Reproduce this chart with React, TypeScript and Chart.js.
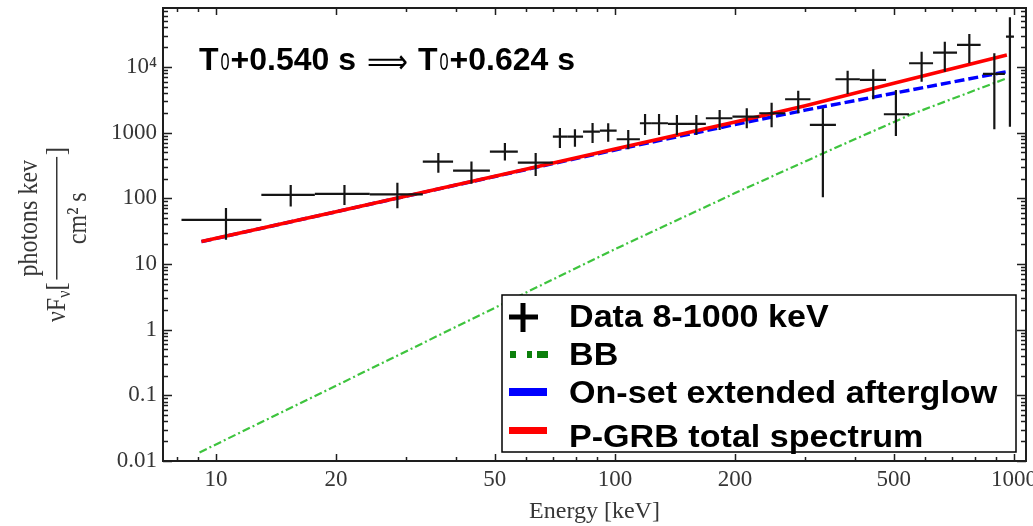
import { useEffect, useRef } from 'react';
import { Chart, registerables } from 'chart.js';

Chart.register(...registerables);

// Measured spectrum: bin centre, bin edges (keV) and νFν with its 1σ bounds
const energy = [10.6, 15.4, 21.0, 28.5, 36.1, 43.7, 53.0, 63.3, 72.8, 79.4, 87.9, 96.2, 108, 119, 129, 143, 160, 183, 214, 247, 288, 332, 383, 444, 506, 587, 671, 773, 893, 977];
const energyLo = [8.2, 13.0, 17.7, 24.3, 33.0, 39.3, 48.6, 57.1, 69.9, 76.2, 83.2, 91.7, 101, 115.5, 123.8, 135.8, 151.6, 169, 197, 230, 267, 308, 357, 411, 472, 546, 627, 720, 836, 955];
const energyHi = [13.0, 17.7, 24.3, 33.0, 39.3, 48.6, 57.1, 69.9, 76.2, 83.2, 91.7, 101, 115.5, 123.8, 135.8, 151.6, 169, 197, 230, 267, 309, 358, 411, 478, 546, 627, 720, 825, 949, 1000];
const flux = [46.9, 113, 117, 115, 362, 264, 514, 349, 869, 869, 1035, 1072, 793, 1390, 1390, 1357, 1357, 1656, 1752, 1974, 3224, 1310, 6500, 6340, 1905, 11380, 16510, 21620, 7830, 28900];
const fluxLo = [23.3, 74.8, 79.4, 70.6, 244, 166, 375, 219, 585, 612, 697, 729, 559, 922, 922, 922, 922, 1099, 1167, 1208, 1974, 104, 3880, 3220, 891, 5975, 8480, 11380, 1127, 1234];
const fluxHi = [71.4, 160, 160, 173, 491, 362, 697, 491, 1180, 1127, 1406, 1390, 1099, 1925, 1925, 1859, 1859, 2215, 2350, 2862, 4357, 2350, 8784, 9226, 4467, 17100, 24270, 31770, 16160, 57080];

// Model components
const modelEnergy = [9.2, 20, 50, 100, 200, 300, 500, 960];
const afterglow = [21.9, 62.3, 215, 545, 1330, 2200, 3979, 8476];
const total = [22.0, 62.4, 217, 562, 1450, 2570, 5650, 15200];
const bbEnergy = [9.1, 20, 50, 100, 200, 330, 548, 960];
const bb = [0.0135, 0.14, 2.15, 16.8, 120, 474, 1859, 6730];

// Axis labels
const xTickValues = [10, 20, 50, 100, 200, 500, 1000];
const yTickValues = [0.01, 0.1, 1, 10, 100, 1000, 10000];

const legendLabels = ['Data 8-1000 keV', 'BB', 'On-set extended afterglow', 'P-GRB total spectrum'];

const SERIF = '"Liberation Serif", "Times New Roman", serif';
const SANS = '"Liberation Sans", Arial, sans-serif';
const LABEL_GRAY = '#363636';

const pts = (xs: number[], ys: number[]) => xs.map((x, i) => ({ x, y: ys[i] }));

const errorBarsPlugin = {
  id: 'errorBars',
  afterDatasetsDraw(chart: any) {
    const { ctx, chartArea: a } = chart;
    const x = chart.scales.x;
    const y = chart.scales.y;
    ctx.save();
    ctx.beginPath();
    ctx.rect(a.left, a.top, a.right - a.left, a.bottom - a.top);
    ctx.clip();
    ctx.strokeStyle = '#151515';
    ctx.lineWidth = 2.2;
    energy.forEach((e, i) => {
      const px = x.getPixelForValue(e);
      const py = y.getPixelForValue(flux[i]);
      ctx.beginPath();
      ctx.moveTo(x.getPixelForValue(energyLo[i]), py);
      ctx.lineTo(x.getPixelForValue(energyHi[i]), py);
      ctx.moveTo(px, y.getPixelForValue(fluxLo[i]));
      ctx.lineTo(px, y.getPixelForValue(fluxHi[i]));
      ctx.stroke();
    });
    ctx.restore();
  },
};

// Box frame with inward-pointing major/minor ticks on all four sides
const framePlugin = {
  id: 'frame',
  afterDatasetsDraw(chart: any) {
    const { ctx, chartArea: a } = chart;
    const x = chart.scales.x;
    const y = chart.scales.y;
    ctx.save();
    ctx.strokeStyle = '#1e1e1e';
    ctx.lineWidth = 1.5;
    ctx.beginPath();
    for (let d = 0; d <= 3; d++) {
      for (let k = 1; k <= 9; k++) {
        const v = k * Math.pow(10, d);
        if (v < x.min || v > x.max) continue;
        const px = Math.round(x.getPixelForValue(v)) + 0.5;
        const len = xTickValues.includes(v) ? 7 : 4;
        ctx.moveTo(px, a.bottom);
        ctx.lineTo(px, a.bottom - len);
        ctx.moveTo(px, a.top);
        ctx.lineTo(px, a.top + len);
      }
    }
    for (let d = -2; d <= 4; d++) {
      for (let k = 1; k <= 9; k++) {
        const v = k * Math.pow(10, d);
        if (v < y.min || v > y.max) continue;
        const py = Math.round(y.getPixelForValue(v)) + 0.5;
        const len = k === 1 ? 9 : 5;
        ctx.moveTo(a.left, py);
        ctx.lineTo(a.left + len, py);
        ctx.moveTo(a.right, py);
        ctx.lineTo(a.right - len, py);
      }
    }
    ctx.stroke();
    ctx.lineWidth = 2;
    ctx.strokeRect(a.left, a.top, a.right - a.left, a.bottom - a.top);
    ctx.restore();
  },
};

function drawRotated(ctx: CanvasRenderingContext2D, text: string, font: string, baseX: number, startY: number, stretch: number) {
  ctx.font = font;
  const w = ctx.measureText(text).width;
  ctx.save();
  ctx.translate(baseX, startY);
  ctx.rotate(-Math.PI / 2);
  ctx.scale(1, stretch);
  ctx.textAlign = 'left';
  ctx.textBaseline = 'alphabetic';
  ctx.fillText(text, 0, 0);
  ctx.restore();
  return w;
}

function drawYTitle(ctx: CanvasRenderingContext2D) {
  const S = 1.15;
  ctx.save();
  ctx.fillStyle = LABEL_GRAY;
  let yPos = 322;
  yPos -= drawRotated(ctx, 'νF', `24px ${SERIF}`, 65, yPos, S);
  yPos -= drawRotated(ctx, 'ν', `16px ${SERIF}`, 70, yPos, S);
  yPos -= drawRotated(ctx, '[', `24px ${SERIF}`, 65, yPos, S) + 3;
  ctx.font = `24px ${SERIF}`;
  const num = 'photons kev';
  const den = 'cm² s';
  const wn = ctx.measureText(num).width;
  const wd = ctx.measureText(den).width;
  const bar = Math.max(wn, wd) + 6;
  drawRotated(ctx, num, `24px ${SERIF}`, 37, yPos - (bar - wn) / 2, S);
  drawRotated(ctx, den, `24px ${SERIF}`, 86, yPos - (bar - wd) / 2, S);
  ctx.fillRect(56, yPos - bar, 1.5, bar);
  drawRotated(ctx, ']', `24px ${SERIF}`, 65, yPos - bar - 2, S);
  ctx.restore();
}

function drawTime(ctx: CanvasRenderingContext2D, x0: number, base: number, label: string) {
  let x = x0;
  ctx.font = `bold 32px ${SANS}`;
  ctx.fillText('T', x, base);
  x += ctx.measureText('T').width + 2;
  ctx.font = `24px ${SANS}`;
  const w0 = ctx.measureText('0').width * 0.68;
  ctx.save();
  ctx.translate(x, base);
  ctx.scale(0.68, 1);
  ctx.fillText('0', 0, 0);
  ctx.restore();
  x += w0 + 1;
  ctx.font = `bold 32px ${SANS}`;
  ctx.fillText(label, x, base);
}

const overlayPlugin = {
  id: 'overlay',
  afterDraw(chart: any) {
    const ctx: CanvasRenderingContext2D = chart.ctx;
    drawYTitle(ctx);

    // interval annotation
    ctx.save();
    ctx.fillStyle = '#000';
    ctx.textAlign = 'left';
    ctx.textBaseline = 'alphabetic';
    drawTime(ctx, 199, 70, '+0.540 s');
    ctx.font = `34px "DejaVu Sans", sans-serif`;
    const aw = ctx.measureText('⟹').width;
    ctx.save();
    ctx.translate(367, 64);
    ctx.scale(41 / aw, 1);
    ctx.textBaseline = 'middle';
    ctx.fillText('⟹', 0, 0);
    ctx.restore();
    drawTime(ctx, 418, 70, '+0.624 s');
    ctx.restore();

    // legend box
    ctx.save();
    ctx.fillStyle = '#fff';
    ctx.fillRect(502, 295, 514, 157);
    ctx.strokeStyle = '#000';
    ctx.lineWidth = 1.5;
    ctx.strokeRect(502, 295, 514, 157);
    // symbols
    ctx.fillStyle = '#000';
    ctx.fillRect(509, 314.5, 29, 5);
    ctx.fillRect(520.5, 303, 5, 29);
    ctx.fillStyle = '#0b7f0b';
    ctx.fillRect(510, 351, 6, 7);
    ctx.fillRect(527, 351, 5, 7);
    ctx.fillRect(537, 351, 11, 7);
    ctx.fillStyle = chart.data.datasets[2].borderColor;
    ctx.fillRect(509, 388, 38, 8);
    ctx.fillStyle = chart.data.datasets[3].borderColor;
    ctx.fillRect(509, 427, 38, 7);
    // labels
    ctx.fillStyle = '#000';
    ctx.font = `bold 31px ${SANS}`;
    ctx.textBaseline = 'alphabetic';
    const baselines = [327, 365, 403, 447];
    legendLabels.forEach((t, i) => {
      ctx.save();
      ctx.translate(569, baselines[i]);
      ctx.scale(1.1, 1);
      ctx.fillText(t, 0, 0);
      ctx.restore();
    });
    ctx.restore();
  },
};

export default function App() {
  const ref = useRef<HTMLCanvasElement>(null);

  useEffect(() => {
    if (!ref.current) return;
    const chart = new Chart(ref.current, {
      type: 'scatter',
      data: {
        datasets: [
          {
            label: legendLabels[0],
            data: pts(energy, flux),
            pointRadius: 0,
            showLine: false,
            order: 0,
          },
          {
            label: legendLabels[1],
            data: pts(bbEnergy, bb),
            showLine: true,
            borderColor: '#3ec43e',
            borderWidth: 2.2,
            borderDash: [8, 3, 2, 3],
            pointRadius: 0,
            tension: 0,
            order: 3,
          },
          {
            label: legendLabels[2],
            data: pts(modelEnergy, afterglow),
            showLine: true,
            borderColor: '#0000ff',
            borderWidth: 3.5,
            borderDash: [10, 4],
            pointRadius: 0,
            tension: 0,
            order: 2,
          },
          {
            label: legendLabels[3],
            data: pts(modelEnergy, total),
            showLine: true,
            borderColor: '#ff0000',
            borderWidth: 3.5,
            pointRadius: 0,
            tension: 0,
            order: 1,
          },
        ],
      } as any,
      options: {
        animation: false,
        responsive: false,
        devicePixelRatio: 1,
        events: [],
        layout: { padding: { left: 0, right: 7, top: 8, bottom: 0 } },
        plugins: { legend: { display: false }, tooltip: { enabled: false } },
        scales: {
          x: {
            type: 'logarithmic',
            position: 'bottom',
            min: 7.37,
            max: 1072,
            grid: { display: false, drawTicks: false },
            border: { display: false },
            ticks: {
              autoSkip: false,
              maxRotation: 0,
              padding: 5,
              color: LABEL_GRAY,
              font: { family: SERIF, size: 23 },
              callback: (v: any) => String(v),
            },
            title: {
              display: true,
              text: 'Energy [keV]',
              color: LABEL_GRAY,
              font: { family: SERIF, size: 24 },
              padding: 0,
            },
            afterBuildTicks: (s: any) => {
              s.ticks = xTickValues.map((v) => ({ value: v }));
            },
            afterFit: (s: any) => {
              s.height = 65;
              s.paddingLeft = 0;
              s.paddingRight = 0;
            },
          },
          y: {
            type: 'logarithmic',
            position: 'left',
            min: 0.01,
            max: 79000,
            grid: { display: false, drawTicks: false },
            border: { display: false },
            ticks: {
              autoSkip: false,
              padding: 6,
              color: LABEL_GRAY,
              font: { family: SERIF, size: 23 },
              callback: (v: any) => (Number(v) === 10000 ? '10⁴' : String(v)),
            },
            afterBuildTicks: (s: any) => {
              s.ticks = yTickValues.map((v) => ({ value: v }));
            },
            afterFit: (s: any) => {
              s.width = 163;
              s.paddingTop = 0;
              s.paddingBottom = 0;
            },
          },
        },
      } as any,
      plugins: [errorBarsPlugin, framePlugin, overlayPlugin],
    });
    return () => chart.destroy();
  }, []);

  return (
    <div style={{ position: 'fixed', left: 0, top: 0, width: 1033, height: 526, background: '#fff' }}>
      <canvas ref={ref} width={1033} height={526} style={{ display: 'block' }} />
    </div>
  );
}
